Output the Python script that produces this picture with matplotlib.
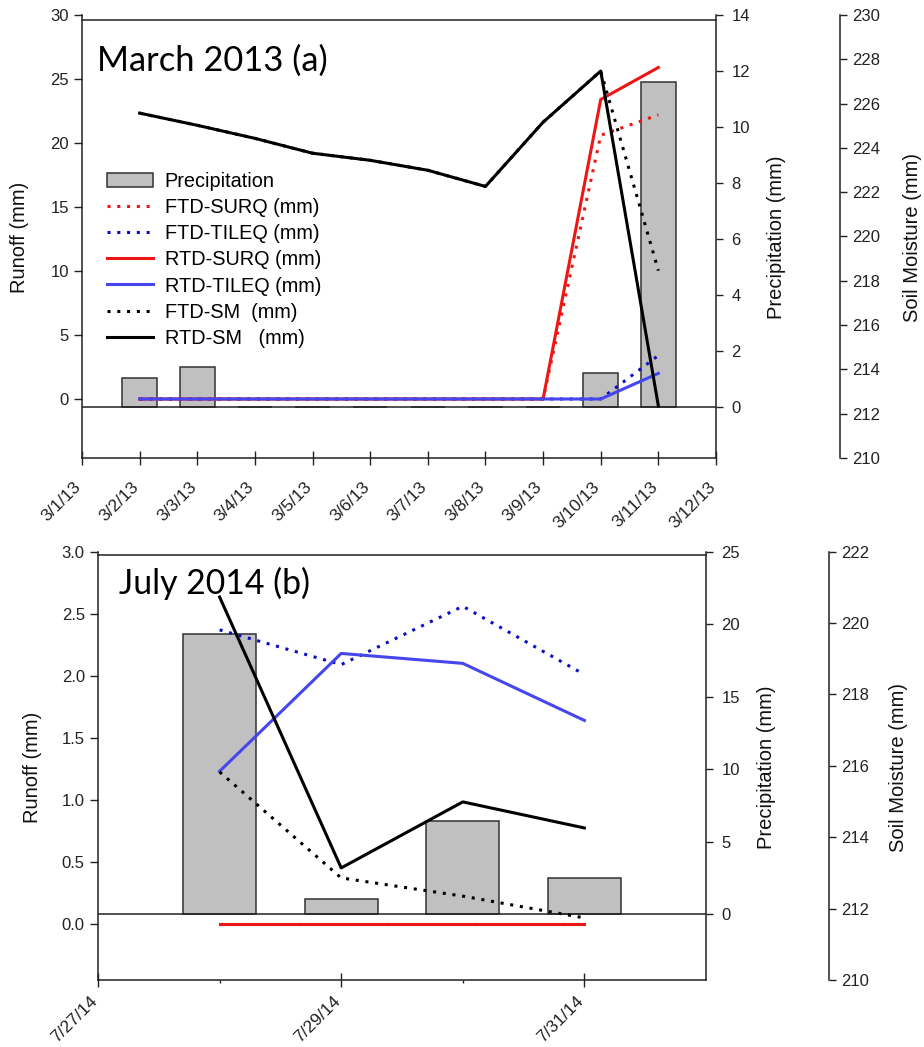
import datetime as dt
import matplotlib
matplotlib.use("Agg")
import matplotlib.pyplot as plt
import matplotlib.dates as mdates
from matplotlib.ticker import FormatStrFormatter

plt.rcParams["font.family"] = ["Liberation Sans", "DejaVu Sans"]

# March 2013 (daily, 3/2 .. 3/11)
mar_days = [dt.date(2013, 3, d) for d in range(2, 12)]
mar_precip = [1.04, 1.43, 0, 0, 0, 0, 0, 0, 1.21, 11.6]
mar_ftd_surq = [0, 0, 0, 0, 0, 0, 0, 0, 20.6, 22.2]
mar_ftd_tileq = [0, 0, 0, 0, 0, 0, 0, 0, 0, 3.4]
mar_rtd_surq = [0, 0, 0, 0, 0, 0, 0, 0, 23.4, 25.9]
mar_rtd_tileq = [0, 0, 0, 0, 0, 0, 0, 0, 0, 2.0]
mar_ftd_sm = [225.57, 225.02, 224.43, 223.76, 223.44, 222.99, 222.26, 225.16, 227.47, 218.46]
mar_rtd_sm = [225.57, 225.02, 224.43, 223.76, 223.44, 222.99, 222.26, 225.16, 227.47, 212.35]
mar_ticks = [dt.date(2013, 3, d) for d in range(1, 13)]
mar_labels = ["3/%d/13" % d.day for d in mar_ticks]

# July 2014 (daily, 7/28 .. 7/31)
jul_days = [dt.date(2014, 7, d) for d in range(28, 32)]
jul_precip = [19.33, 1.03, 6.43, 2.53]
jul_ftd_surq = [0, 0, 0, 0]
jul_ftd_tileq = [2.37, 2.09, 2.56, 2.01]
jul_rtd_surq = [0, 0, 0, 0]
jul_rtd_tileq = [1.23, 2.18, 2.10, 1.64]
jul_ftd_sm = [215.83, 212.86, 212.35, 211.74]
jul_rtd_sm = [220.73, 213.14, 214.99, 214.26]
jul_major = [dt.date(2014, 7, 27), dt.date(2014, 7, 29), dt.date(2014, 7, 31)]
jul_minor = [dt.date(2014, 7, 28), dt.date(2014, 7, 30)]
jul_labels = ["7/27/14", "7/29/14", "7/31/14"]

W, H = 924, 1047
RED = "#ee1515"
BLUE = "#4646ee"
DBLUE = "#0c0cc4"
DOT = (0, (1, 2.2))


def rect(left, top, right, bottom):
    return [left / W, 1 - bottom / H, (right - left) / W, (bottom - top) / H]


def make_axes(fig, r, sm_offset, frame_top):
    ax = fig.add_axes(r)
    axp = ax.twinx()
    axs = ax.twinx()
    axp.set_zorder(1)
    ax.set_zorder(2)
    axs.set_zorder(3)
    for a in (ax, axp, axs):
        a.patch.set_visible(False)
    ax.spines["right"].set_visible(False)
    # top frame line sits a little below the end of the runoff axis
    ax.spines["top"].set_position(("data", frame_top))
    for a in (axp, axs):
        for s in ("left", "top", "bottom"):
            a.spines[s].set_visible(False)
    axs.spines["right"].set_position(("axes", sm_offset))
    for a in (ax, axp, axs):
        for s in a.spines.values():
            s.set_linewidth(1.1)
            s.set_color("#222222")
        a.tick_params(axis="y", labelsize=12, colors="#222222", width=1.0)
    ax.tick_params(axis="y", direction="out", length=6)
    axp.tick_params(axis="y", direction="out", length=5, pad=6)
    axs.tick_params(axis="y", direction="out", length=5, pad=4)
    return ax, axp, axs


def draw(ax, axp, axs, days, precip, ftd_surq, ftd_tileq, rtd_surq, rtd_tileq, ftd_sm, rtd_sm):
    x = mdates.date2num(days)
    bars = axp.bar(x, precip, width=0.6, color="#c0c0c0", edgecolor="#333333",
                   linewidth=1.1, label="Precipitation")
    axp.axhline(0, color="#222222", lw=1.1)
    h1, = ax.plot(x, ftd_surq, color=RED, lw=2.2, ls=DOT, label="FTD-SURQ (mm)")
    h2, = ax.plot(x, ftd_tileq, color=DBLUE, lw=2.2, ls=DOT, label="FTD-TILEQ (mm)")
    h3, = ax.plot(x, rtd_surq, color=RED, lw=2.2, label="RTD-SURQ (mm)")
    h4, = ax.plot(x, rtd_tileq, color=BLUE, lw=2.2, label="RTD-TILEQ (mm)")
    h5, = axs.plot(x, ftd_sm, color="black", lw=2.2, ls=DOT, label="FTD-SM  (mm)")
    h6, = axs.plot(x, rtd_sm, color="black", lw=2.2, label="RTD-SM   (mm)")
    return [bars, h1, h2, h3, h4, h5, h6]


def rotate_dates(ax):
    for lbl in ax.get_xticklabels():
        lbl.set_rotation(45)
        lbl.set_ha("right")
        lbl.set_va("baseline")
        lbl.set_rotation_mode("anchor")
        lbl.set_fontsize(12.5)


def side_labels(fig, ycen, xs):
    for txt, xp in zip(["Runoff (mm)", "Precipitation (mm)", "Soil Moisture (mm)"], xs):
        fig.text(xp / W, 1 - ycen / H, txt, rotation=90, ha="center", va="center",
                 fontsize=14.5, color="#111111")


fig = plt.figure(figsize=(W / 100, H / 100), dpi=100)

# ---- (a) March 2013 ----
ax, axp, axs = make_axes(fig, rect(82, 15, 716, 458), (840 - 82) / (716 - 82), 29.6)
handles = draw(ax, axp, axs, mar_days, mar_precip, mar_ftd_surq, mar_ftd_tileq,
               mar_rtd_surq, mar_rtd_tileq, mar_ftd_sm, mar_rtd_sm)
xt = mdates.date2num(mar_ticks)
ax.set_xlim(xt[0], xt[-1])
ax.set_ylim(-4.61, 30)
ax.set_yticks(range(0, 31, 5))
axp.set_ylim(-1.82, 14)
axp.set_yticks(range(0, 15, 2))
axs.set_ylim(210, 230)
axs.set_yticks(range(210, 231, 2))
ax.set_xticks(xt, mar_labels)
ax.tick_params(axis="x", direction="inout", length=9.5, width=1.0, pad=16.5, colors="#222222")
rotate_dates(ax)
axs.legend(handles=handles, loc="upper left", bbox_to_anchor=(107 / W, 1 - 172 / H),
           bbox_transform=fig.transFigure, frameon=False, fontsize=14.3, borderpad=0,
           borderaxespad=0, labelspacing=0.36, handlelength=2.3, handleheight=0.75,
           handletextpad=0.6)
fig.text(97 / W, 1 - 71 / H, "March 2013 (a)", fontsize=24.8, family="Lato", va="baseline")
side_labels(fig, 237, [20, 777, 912])

# ---- (b) July 2014 ----
ax, axp, axs = make_axes(fig, rect(98, 551.7, 706, 980), (829 - 98) / (706 - 98), 2.97)
draw(ax, axp, axs, jul_days, jul_precip, jul_ftd_surq, jul_ftd_tileq,
     jul_rtd_surq, jul_rtd_tileq, jul_ftd_sm, jul_rtd_sm)
ax.set_xlim(mdates.date2num(dt.date(2014, 7, 27)), mdates.date2num(dt.date(2014, 8, 1)))
ax.set_ylim(-0.452, 3.0)
ax.set_yticks([0, 0.5, 1.0, 1.5, 2.0, 2.5, 3.0])
ax.yaxis.set_major_formatter(FormatStrFormatter("%.1f"))
axp.set_ylim(-4.53, 25)
axp.set_yticks(range(0, 26, 5))
axs.set_ylim(210, 222)
axs.set_yticks(range(210, 223, 2))
ax.set_xticks(mdates.date2num(jul_major), jul_labels)
ax.set_xticks(mdates.date2num(jul_minor), minor=True)
ax.tick_params(axis="x", which="major", direction="inout", length=10, width=1.0, pad=10.5,
               colors="#222222")
ax.tick_params(axis="x", which="minor", direction="out", length=2.5, width=1.0, colors="#222222")
rotate_dates(ax)
fig.text(119 / W, 1 - 594 / H, "July 2014 (b)", fontsize=24.3, family="Lato", va="baseline")
side_labels(fig, 767, [33, 766, 898])

fig.savefig("out.png", dpi=100, facecolor="white")
